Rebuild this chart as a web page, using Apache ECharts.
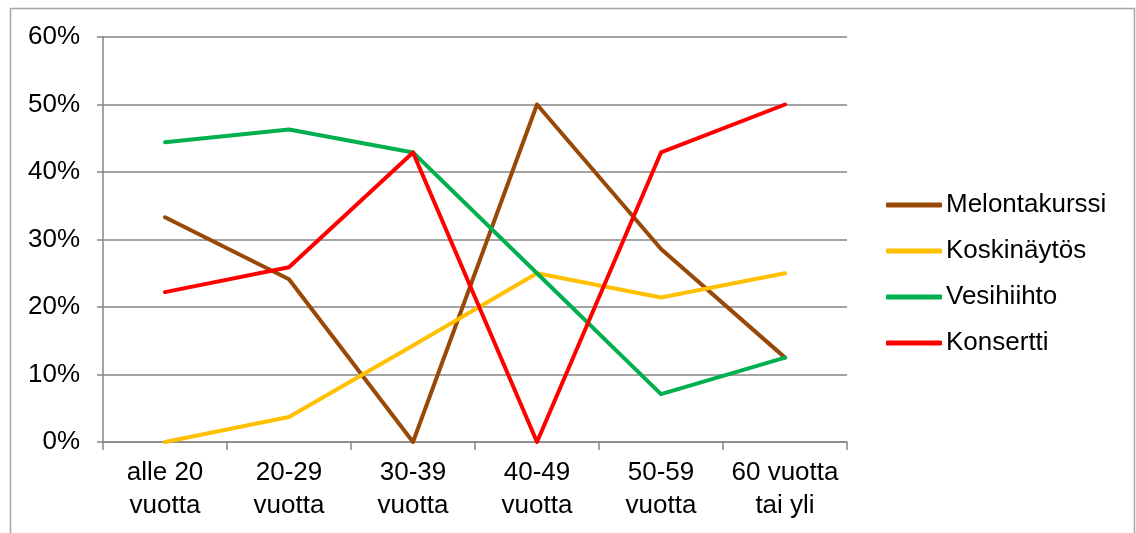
<!DOCTYPE html>
<html><head><meta charset="utf-8">
<script src="https://cdn.jsdelivr.net/npm/echarts@6/dist/echarts.min.js"></script>
<style>html,body{margin:0;padding:0;background:#fff}#c{width:1136px;height:533px}</style>
</head><body><div id="c"></div>
<script>
const categories = ['alle 20\nvuotta','20-29\nvuotta','30-39\nvuotta','40-49\nvuotta','50-59\nvuotta','60 vuotta\ntai yli'];
const yTicks = [0,10,20,30,40,50,60];
const melontakurssi = [33.3, 24.1, 0, 50, 28.6, 12.5];
const koskinaytos = [0, 3.7, 14.3, 25, 21.4, 25];
const vesihiihto = [44.4, 46.3, 42.9, 25, 7.1, 12.5];
const konsertti = [22.2, 25.9, 42.9, 0, 42.9, 50];
const seriesNames = ['Melontakurssi','Koskinäytös','Vesihiihto','Konsertti'];
const seriesData = [melontakurssi, koskinaytos, vesihiihto, konsertti];
const colors = ['#984807','#FFC000','#00B050','#FF0000'];

const chart = echarts.init(document.getElementById('c'), null, {renderer:'canvas'});
const font = 'Liberation Sans, Arial, sans-serif';
chart.setOption({
  animation:false,
  graphic:[{type:'rect', shape:{x:10.5,y:8.5,width:1124,height:600}, style:{fill:'none', stroke:'#a6a6a6', lineWidth:1.5}, silent:true}],
  grid:{left:103, top:37, width:744, height:405, containLabel:false},
  legend:{
    orient:'vertical', left:881, top:187, itemGap:20, itemWidth:56, itemHeight:5,
    icon:'roundRect',
    textStyle:{fontFamily:font, fontSize:26, lineHeight:26, color:'#000', padding:[0,0,0,-1]},
    data:seriesNames
  },
  xAxis:{
    type:'category', data:categories, boundaryGap:true,
    axisLine:{lineStyle:{color:'#868686', width:1.5}},
    axisTick:{show:true, length:8, lineStyle:{color:'#868686', width:1.5}},
    axisLabel:{fontFamily:font, fontSize:26, color:'#000', margin:14, lineHeight:33, interval:0}
  },
  yAxis:{
    type:'value', min:0, max:60, interval:10,
    axisLine:{show:true, lineStyle:{color:'#868686', width:1.5}},
    axisTick:{show:true, length:6, lineStyle:{color:'#868686', width:1.5}},
    splitLine:{lineStyle:{color:'#868686', width:1.5}},
    axisLabel:{fontFamily:font, fontSize:26, color:'#000', margin:23, formatter: v => v + '%'}
  },
  series: seriesNames.map((n,i)=>({
    name:n, type:'line', data:seriesData[i], symbol:'none',
    lineStyle:{color:colors[i], width:4, cap:'round', join:'round'}, itemStyle:{color:colors[i]}
  }))
});
</script></body></html>
